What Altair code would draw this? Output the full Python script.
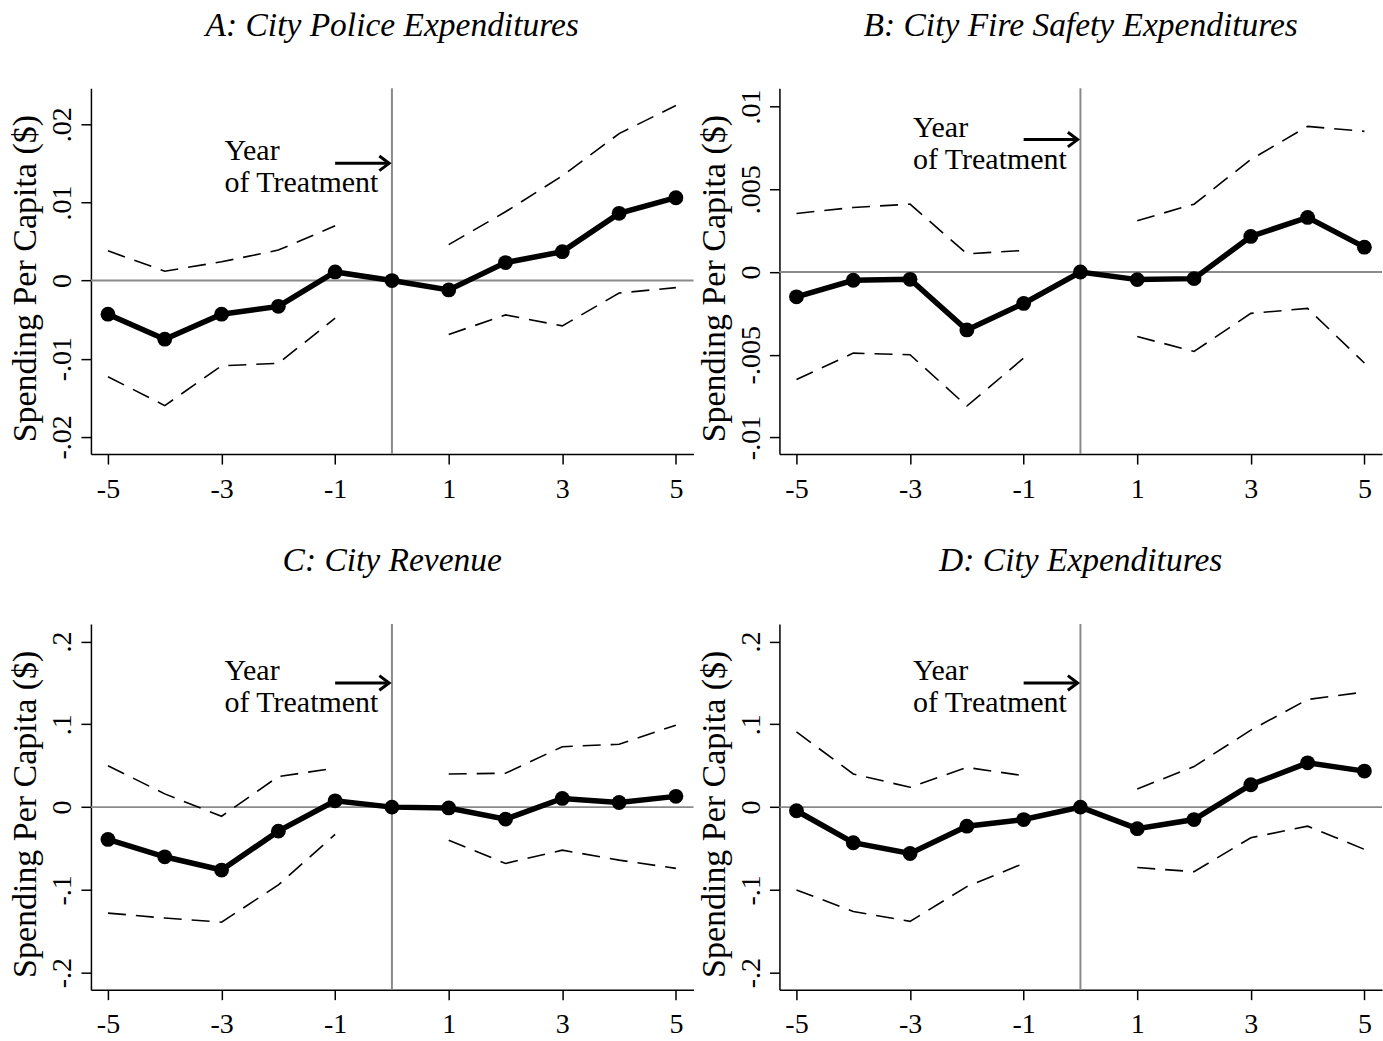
import altair as alt
import pandas as pd

# Event time relative to the year of treatment
event_time = [-5, -4, -3, -2, -1, 0, 1, 2, 3, 4, 5]

# Panel A: city police expenditures (point estimates and 95% CI bounds)
police_est = [-0.0043, -0.0075, -0.0043, -0.0033, 0.0011, 0.0, -0.0012, 0.0023, 0.0037, 0.0086, 0.0106]
police_hi = [0.0038, 0.0012, 0.0024, 0.0039, 0.0070, None, 0.0046, 0.0088, 0.0134, 0.0188, 0.0224]
police_lo = [-0.0123, -0.0160, -0.0109, -0.0106, -0.0048, None, -0.0069, -0.0044, -0.0058, -0.0016, -0.0009]

# Panel B: city fire safety expenditures
fire_est = [-0.0015, -0.0005, -0.00044, -0.0035, -0.0019, 0.0, -0.00046, -0.0004, 0.00215, 0.0033, 0.0015]
fire_hi = [0.00354, 0.0039, 0.0041, 0.0011, 0.0013, None, 0.0031, 0.0041, 0.0068, 0.0088, 0.0085]
fire_lo = [-0.0065, -0.0049, -0.0050, -0.0081, -0.0052, None, -0.0039, -0.0048, -0.0025, -0.0022, -0.0055]

# Panel C: city revenue
rev_est = [-0.039, -0.060, -0.076, -0.029, 0.0076, 0.0, -0.001, -0.0145, 0.0105, 0.0056, 0.013]
rev_hi = [0.050, 0.016, -0.011, 0.037, 0.047, None, 0.040, 0.041, 0.073, 0.076, 0.099]
rev_lo = [-0.128, -0.134, -0.139, -0.094, -0.033, None, -0.040, -0.068, -0.052, -0.064, -0.074]

# Panel D: city expenditures
exp_est = [-0.0044, -0.043, -0.056, -0.023, -0.015, 0.0, -0.026, -0.015, 0.027, 0.0535, 0.0435]
exp_hi = [0.091, 0.040, 0.024, 0.048, 0.038, None, 0.022, 0.049, 0.093, 0.130, 0.139]
exp_lo = [-0.100, -0.126, -0.138, -0.096, -0.068, None, -0.073, -0.078, -0.037, -0.023, -0.051]

# Axis ticks and their printed labels
x_ticks = [-5, -3, -1, 1, 3, 5]
x_labels = ["-5", "-3", "-1", "1", "3", "5"]
small_ticks = [-0.02, -0.01, 0, 0.01, 0.02]
small_labels = ["-.02", "-.01", "0", ".01", ".02"]
fire_ticks = [-0.01, -0.005, 0, 0.005, 0.01]
fire_labels = ["-.01", "-.005", "0", ".005", ".01"]
big_ticks = [-0.2, -0.1, 0, 0.1, 0.2]
big_labels = ["-.2", "-.1", "0", ".1", ".2"]

titles = [
    "A: City Police Expenditures",
    "B: City Fire Safety Expenditures",
    "C: City Revenue",
    "D: City Expenditures",
]

FONT = "Liberation Serif"
X_DOMAIN = [-5.3, 5.31]
PANEL_W = 603
PANEL_H = 366


def label_expr(ticks, labels):
    expr = "''"
    for t, lab in zip(ticks, labels):
        expr = f"datum.value == {t} ? '{lab}' : ({expr})"
    return expr


def panel(title, est, hi, lo, y_domain, y_ticks, y_labels, arrow_y):
    df = pd.DataFrame({"t": event_time, "est": est, "hi": hi, "lo": lo})
    df["seg"] = ["pre" if t < 0 else ("ref" if t == 0 else "post") for t in event_time]

    xs = alt.Scale(domain=X_DOMAIN, nice=False, zero=False)
    ys = alt.Scale(domain=y_domain, nice=False, zero=False)
    x_axis = alt.Axis(values=x_ticks, labelExpr=label_expr(x_ticks, x_labels), title=None)
    y_axis = alt.Axis(values=y_ticks, labelExpr=label_expr(y_ticks, y_labels),
                      title="Spending Per Capita ($)")

    def X(field):
        return alt.X(field, type="quantitative", scale=xs, axis=x_axis)

    def Y(field):
        return alt.Y(field, type="quantitative", scale=ys, axis=y_axis)

    zero_df = pd.DataFrame({"v": [0.0]})
    vline = alt.Chart(zero_df).mark_rule(color="#8a8a8a", strokeWidth=2).encode(x=X("v"))
    hline = alt.Chart(zero_df).mark_rule(color="#8a8a8a", strokeWidth=2).encode(y=Y("v"))

    base = alt.Chart(df)
    ci = base.transform_filter("datum.seg != 'ref'")
    upper = ci.mark_line(color="black", strokeWidth=1.6, strokeDash=[18, 10]).encode(
        x=X("t"), y=Y("hi"), detail="seg:N")
    lower = ci.mark_line(color="black", strokeWidth=1.6, strokeDash=[18, 10]).encode(
        x=X("t"), y=Y("lo"), detail="seg:N")
    line = base.mark_line(color="black", strokeWidth=5.5).encode(x=X("t"), y=Y("est"))
    dots = base.mark_circle(color="black", size=220, opacity=1).encode(x=X("t"), y=Y("est"))

    # "Year of Treatment" note with an arrow pointing at the treatment year
    note_df = pd.DataFrame({"x": [-2.95], "x0": [-1.0], "x1": [-0.05], "y": [arrow_y]})
    note = alt.Chart(note_df)
    year_txt = note.mark_text(align="left", baseline="alphabetic", dy=-3, font=FONT,
                              fontSize=30, color="black").encode(
        x=X("x"), y=Y("y"), text=alt.value("Year"))
    treat_txt = note.mark_text(align="left", baseline="alphabetic", dy=29, font=FONT,
                               fontSize=30, color="black").encode(
        x=X("x"), y=Y("y"), text=alt.value("of Treatment"))
    shaft = note.mark_rule(color="black", strokeWidth=3).encode(
        x=X("x0"), x2="x1:Q", y=Y("y"))
    head = note.mark_point(shape="M -1 -0.75 L 0 0 L -1 0.75", filled=False, size=380,
                           strokeWidth=3, color="black", opacity=1).encode(
        x=X("x1"), y=Y("y"))

    return alt.layer(vline, hline, upper, lower, line, dots, year_txt, treat_txt, shaft, head).properties(
        width=PANEL_W, height=PANEL_H,
        title=alt.TitleParams(title, font=FONT, fontStyle="italic", fontWeight="normal",
                              fontSize=33.5, color="black", anchor="middle", frame="group",
                              baseline="alphabetic", offset=18))


pa = panel(titles[0], police_est, police_hi, police_lo, [-0.0222, 0.0246], small_ticks, small_labels, 0.015)
pb = panel(titles[1], fire_est, fire_hi, fire_lo, [-0.0110, 0.0111], fire_ticks, fire_labels, 0.008)
pc = panel(titles[2], rev_est, rev_hi, rev_lo, [-0.2205, 0.2213], big_ticks, big_labels, 0.15)
pd_ = panel(titles[3], exp_est, exp_hi, exp_lo, [-0.2205, 0.2213], big_ticks, big_labels, 0.15)

chart = alt.concat(pa, pb, pc, pd_, columns=2, spacing={"row": 170, "column": 86},
                   bounds="flush").properties(
    padding={"left": 9, "top": 8, "right": 0, "bottom": 5},
    background="white",
).configure_view(stroke=None).configure_axis(
    grid=False,
    domainColor="black", domainWidth=1.5,
    tickColor="black", tickWidth=1.5, tickSize=10,
    labelFont=FONT, labelFontSize=28, labelColor="black",
    titleFont=FONT, titleFontSize=34, titleFontWeight="normal", titleColor="black",
).configure_axisLeft(
    labelAngle=270, labelAlign="center", labelBaseline="alphabetic", labelPadding=10,
    titlePadding=6, titleY=PANEL_H / 2 + 7,
).configure_axisBottom(
    labelPadding=11,
)

chart.save("out.html", embed_options={"renderer": "svg", "actions": False})
